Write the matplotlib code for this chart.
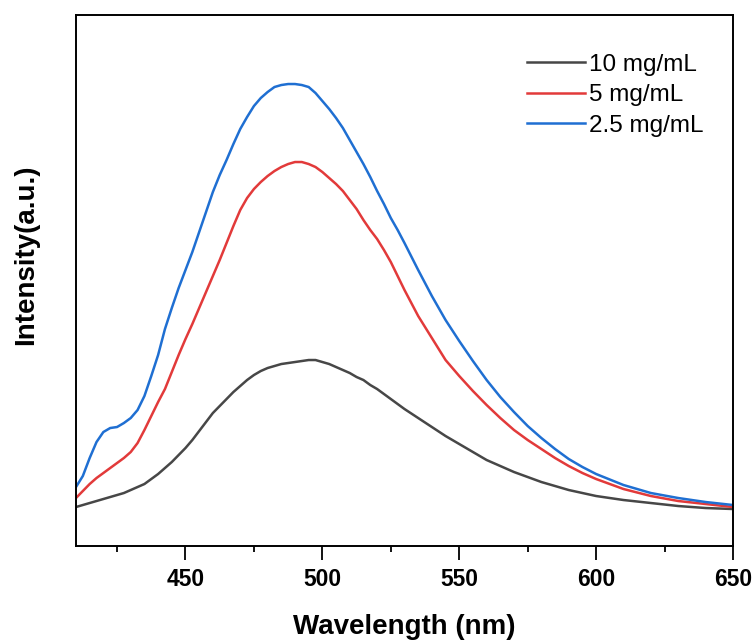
import matplotlib
matplotlib.use("Agg")
import matplotlib.pyplot as plt
from matplotlib.ticker import MultipleLocator

plt.rcParams['font.family'] = ['Liberation Sans', 'DejaVu Sans']

# Photoluminescence spectra at three concentrations (wavelength in nm)
wavelength = [410, 412.5, 415, 417.5, 420, 422.5, 425, 427.5, 430, 432.5,
              435, 437.5, 440, 442.5, 445, 447.5, 450, 452.5, 455, 457.5,
              460, 462.5, 465, 467.5, 470, 472.5, 475, 477.5, 480, 482.5,
              485, 487.5, 490, 492.5, 495, 497.5, 500, 502.5, 505, 507.5,
              510, 512.5, 515, 517.5, 520, 522.5, 525, 527.5, 530,
              535, 540, 545, 550, 555, 560, 565, 570, 575, 580, 585, 590,
              595, 600,
              610, 620, 630, 640, 650]

intensity_10 = [39, 41, 43, 45, 47, 49, 51, 53, 56, 59,
                62, 67, 72, 78, 84, 91, 98, 106, 115, 124,
                133, 140, 147, 154, 160, 166, 171, 175, 178, 180,
                182, 183, 184, 185, 186, 186, 184, 182, 179, 176,
                173, 169, 166, 161, 157, 152, 147, 142, 137,
                128, 119, 110, 102, 94, 86, 80, 74, 69, 64, 60, 56,
                53, 50,
                46, 43, 40, 38, 37]

intensity_5 = [48, 55, 62, 68, 73, 78, 83, 88, 94, 103,
               116, 130, 144, 157, 174, 191, 207, 222, 238, 254,
               270, 286, 303, 320, 336, 348, 357, 364, 370, 375,
               379, 382, 384, 384, 382, 379, 374, 368, 362, 355,
               346, 337, 326, 316, 307, 296, 284, 270, 256,
               230, 208, 186, 170, 155, 141, 128, 116, 106, 97, 88, 80,
               73, 67,
               57, 50, 45, 42, 39]

intensity_2_5 = [59, 70, 88, 104, 114, 118, 119, 123, 128, 136,
                 150, 170, 191, 217, 238, 258, 276, 294, 314, 334,
                 354, 371, 386, 402, 417, 429, 440, 448, 454, 459,
                 461, 462, 462, 461, 459, 453, 445, 437, 428, 418,
                 406, 394, 382, 369, 355, 342, 328, 316, 303,
                 276, 250, 226, 205, 185, 166, 149, 134, 120, 108, 97, 87,
                 79, 72,
                 61, 53, 48, 44, 41]

labels = ['10 mg/mL', '5 mg/mL', '2.5 mg/mL']
colors = ['#474747', '#e23a3a', '#1f6fd2']

fig = plt.figure(figsize=(7.56, 6.42), dpi=100)
ax = fig.add_axes([0.1005, 0.1495, 0.8691, 0.8271])

for y, lab, c in zip([intensity_10, intensity_5, intensity_2_5], labels, colors):
    ax.plot(wavelength, y, color=c, lw=1.8, label=lab)

ax.set_xlim(410, 650)
ax.set_ylim(0, 531)

ax.xaxis.set_major_locator(MultipleLocator(50))
ax.xaxis.set_minor_locator(MultipleLocator(25))
ax.set_yticks([])
ax.tick_params(axis='x', which='major', direction='out', length=10, width=1.3,
               labelsize=16.5, pad=6)
ax.tick_params(axis='x', which='minor', direction='out', length=4, width=1.3)
for lbl in ax.get_xticklabels():
    lbl.set_fontweight('bold')
for s in ax.spines.values():
    s.set_linewidth(1.4)

ax.set_xlabel('Wavelength (nm)', fontsize=20, fontweight='bold')
ax.xaxis.set_label_coords(0.5, -0.128)
ax.set_ylabel('Intensity(a.u.)', fontsize=20, fontweight='bold')
ax.yaxis.set_label_coords(-0.056, 0.548)

ax.legend(loc='upper left', bbox_to_anchor=(0.686, 0.927), frameon=False,
          fontsize=17.5, handlelength=2.4, handletextpad=0.15,
          labelspacing=0.35, borderpad=0, borderaxespad=0)

fig.savefig('out.png', dpi=100)
